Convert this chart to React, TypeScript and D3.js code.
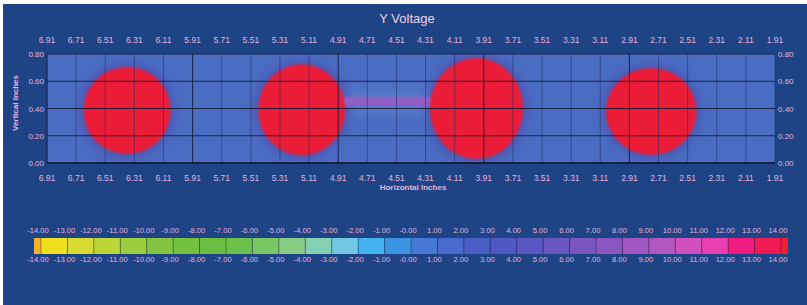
import React, { useEffect, useRef } from "react";
import * as d3 from "d3";

// horizontal axis (inches), reversed: 6.91 on the left
const xTicks = ["6.91", "6.71", "6.51", "6.31", "6.11", "5.91", "5.71", "5.51", "5.31", "5.11", "4.91", "4.71", "4.51", "4.31", "4.11", "3.91", "3.71", "3.51", "3.31", "3.11", "2.91", "2.71", "2.51", "2.31", "2.11", "1.91"];
const xMajor = ["5.91", "4.91", "3.91", "2.91"];
const yTicks = [0, 0.2, 0.4, 0.6, 0.8];

// pads (red discs) in inches
const padCx = [6.36, 5.16, 3.96, 2.76];
const padCy = [0.385, 0.39, 0.40, 0.378];
const padRx = [0.30, 0.30, 0.32, 0.31];
const padRy = [0.32, 0.334, 0.37, 0.32];

// trace between pad 2 and pad 3
const traceX = [5.16, 3.96];
const traceY = 0.45;
const traceH = 0.07;

// legend
const legendTicks = ["-14.00", "-13.00", "-12.00", "-11.00", "-10.00", "-9.00", "-8.00", "-7.00", "-6.00", "-5.00", "-4.00", "-3.00", "-2.00", "-1.00", "-0.00", "1.00", "2.00", "3.00", "4.00", "5.00", "6.00", "7.00", "8.00", "9.00", "10.00", "11.00", "12.00", "13.00", "14.00"];
const legendValues = [-14, -13.5, -12.5, -11.5, -10.5, -9.5, -8.5, -7.5, -6.5, -5.5, -4.5, -3.5, -2.5, -1.5, -0.5, 0.5, 1.5, 2.5, 3.5, 4.5, 5.5, 6.5, 7.5, 8.5, 9.5, 10.5, 11.5, 12.5, 13.5, 14];
const legendColors = ["#f0b428", "#f0e020", "#d8dc30", "#bcd638", "#9ccc40", "#84c440", "#74c040", "#6cbe42", "#6cc04c", "#78c664", "#88cc84", "#84d0b4", "#72c8e2", "#44b2f0", "#3a94e2", "#4878d6", "#4a6ad0", "#4a5ec8", "#5058c6", "#5a56c2", "#6a56c0", "#7a56c0", "#8c56c0", "#a056c0", "#b256c0", "#d050c0", "#e840b0", "#f01c84", "#f01a54", "#f02030"];

const BG = "#1f4485";
const TXT = "#e2b2de";

const App = () => {
	const ref = useRef<SVGSVGElement>(null);

	useEffect(() => {
		const width = 807;
		const height = 305;
		const svg = d3.select(ref.current);
		svg.selectAll("*").remove();
		svg.attr("width", width).attr("height", height);

		const left = 47, right = 775, top = 54, bottom = 163;
		const x = d3.scaleLinear().domain([6.91, 1.91]).range([left, right]);
		const y = d3.scaleLinear().domain([0, 0.8]).range([bottom, top]);

		svg.append("rect").attr("width", width).attr("height", height).attr("fill", "#ffffff");
		svg.append("rect").attr("x", 3).attr("y", 4).attr("width", width - 3).attr("height", height - 4).attr("fill", BG);

		const defs = svg.append("defs");
		defs.append("filter").attr("id", "soft").attr("x", "-20%").attr("y", "-20%").attr("width", "140%").attr("height", "140%")
			.append("feGaussianBlur").attr("stdDeviation", 1.2);
		defs.append("filter").attr("id", "halo").attr("x", "-30%").attr("y", "-30%").attr("width", "160%").attr("height", "160%")
			.append("feGaussianBlur").attr("stdDeviation", 4);
		defs.append("clipPath").attr("id", "plot").append("rect")
			.attr("x", left).attr("y", top).attr("width", right - left).attr("height", bottom - top);

		svg.append("text").attr("x", 407).attr("y", 23).attr("text-anchor", "middle")
			.attr("font-family", "Liberation Sans, Arial, sans-serif").attr("font-size", 13).attr("fill", "#ead2ec")
			.text("Y Voltage");

		// heat map
		const field = svg.append("g").attr("clip-path", "url(#plot)");
		field.append("rect").attr("x", left).attr("y", top).attr("width", right - left).attr("height", bottom - top).attr("fill", "#4a6cc2");
		const pads = padCx.map((cx, i) => ({ cx, cy: padCy[i], rx: padRx[i], ry: padRy[i] }));
		const sx = (d: number) => Math.abs(x(0) - x(d));
		const sy = (d: number) => Math.abs(y(0) - y(d));

		field.append("rect")
			.attr("x", x(traceX[0])).attr("y", y(traceY) - 14)
			.attr("width", x(traceX[1]) - x(traceX[0])).attr("height", 28)
			.attr("fill", "#5478c8").attr("filter", "url(#halo)");
		field.selectAll(".halo").data(pads).enter().append("ellipse")
			.attr("cx", d => x(d.cx)).attr("cy", d => y(d.cy))
			.attr("rx", d => sx(d.rx) + 5).attr("ry", d => sy(d.ry) + 5)
			.attr("fill", "#4c5ab6").attr("filter", "url(#halo)");
		field.append("rect")
			.attr("x", x(traceX[0])).attr("y", y(traceY + traceH / 2))
			.attr("width", x(traceX[1]) - x(traceX[0])).attr("height", sy(traceH))
			.attr("fill", "#9060c8").attr("filter", "url(#soft)");
		field.selectAll(".pad").data(pads).enter().append("ellipse")
			.attr("cx", d => x(d.cx)).attr("cy", d => y(d.cy))
			.attr("rx", d => sx(d.rx)).attr("ry", d => sy(d.ry))
			.attr("fill", "#ea1e38").attr("filter", "url(#soft)");

		// grid
		const grid = svg.append("g");
		grid.selectAll(".vl").data(xTicks).enter().append("line")
			.attr("x1", d => x(+d)).attr("x2", d => x(+d)).attr("y1", top).attr("y2", bottom)
			.attr("stroke", d => xMajor.includes(d) ? "#101830" : "#1a2a60")
			.attr("stroke-opacity", d => xMajor.includes(d) ? 0.85 : 0.5).attr("stroke-width", 1);
		grid.selectAll(".hl").data(yTicks.slice(1, -1)).enter().append("line")
			.attr("x1", left).attr("x2", right).attr("y1", d => y(d)).attr("y2", d => y(d))
			.attr("stroke", "#101830").attr("stroke-opacity", 0.85);
		grid.append("line").attr("x1", left).attr("x2", right).attr("y1", top).attr("y2", top).attr("stroke", "#1a2448");
		grid.append("line").attr("x1", left).attr("x2", right).attr("y1", bottom).attr("y2", bottom).attr("stroke", "#0c1020").attr("stroke-width", 1.5);
		grid.append("line").attr("x1", left).attr("x2", left).attr("y1", top).attr("y2", bottom).attr("stroke", "#1a2448");

		const font = "Liberation Sans, Arial, sans-serif";
		const lab = svg.append("g").attr("font-family", font).attr("font-size", 8.5).attr("fill", TXT);
		[43, 181].forEach(by => {
			lab.selectAll(null).data(xTicks).enter().append("text")
				.attr("x", d => x(+d)).attr("y", by).attr("text-anchor", "middle").text(d => d);
		});
		lab.selectAll(null).data(yTicks).enter().append("text")
			.attr("x", 44).attr("y", d => y(d) + 3).attr("text-anchor", "end").attr("font-size", 8).text(d => d.toFixed(2));
		lab.selectAll(null).data(yTicks).enter().append("text")
			.attr("x", 778).attr("y", d => y(d) + 3).attr("font-size", 8).text(d => d.toFixed(2));

		svg.append("text").attr("x", 413).attr("y", 190).attr("text-anchor", "middle")
			.attr("font-family", font).attr("font-size", 8).attr("font-weight", "bold").attr("fill", TXT)
			.text("Horizontal Inches");
		svg.append("text").attr("transform", "translate(18,103) rotate(-90)").attr("text-anchor", "middle")
			.attr("font-family", font).attr("font-size", 8).attr("font-weight", "bold").attr("fill", TXT)
			.text("Vertical Inches");

		// colour legend
		const lx = d3.scaleLinear().domain([-14, 14]).range([38, 778]);
		const color = d3.scaleLinear<string>().domain(legendValues).range(legendColors);
		const barTop = 238, barH = 16, barL = 34, barR = 788;
		const edges = [barL, ...legendTicks.map(t => lx(+t) + 3), barR];
		const cells = edges.slice(0, -1).map((e, i) => ({ x0: e, x1: edges[i + 1], v: legendValues[i] }));
		const bar = svg.append("g");
		bar.selectAll("rect").data(cells).enter().append("rect")
			.attr("x", d => d.x0).attr("y", barTop).attr("width", d => d.x1 - d.x0).attr("height", barH)
			.attr("fill", d => color(d.v));
		bar.selectAll("line").data(edges.slice(1, -1)).enter().append("line")
			.attr("x1", d => d).attr("x2", d => d).attr("y1", barTop).attr("y2", barTop + barH)
			.attr("stroke", "#000").attr("stroke-opacity", 0.35);

		const ll = svg.append("g").attr("font-family", font).attr("font-size", 7.6).attr("fill", TXT).attr("text-anchor", "middle");
		[233, 262].forEach(by => {
			ll.selectAll(null).data(legendTicks).enter().append("text")
				.attr("x", d => lx(+d)).attr("y", by).text(d => d);
		});
	}, []);

	return <svg ref={ref} style={{ position: "absolute", left: 0, top: 0 }}></svg>;
};

export default App;
